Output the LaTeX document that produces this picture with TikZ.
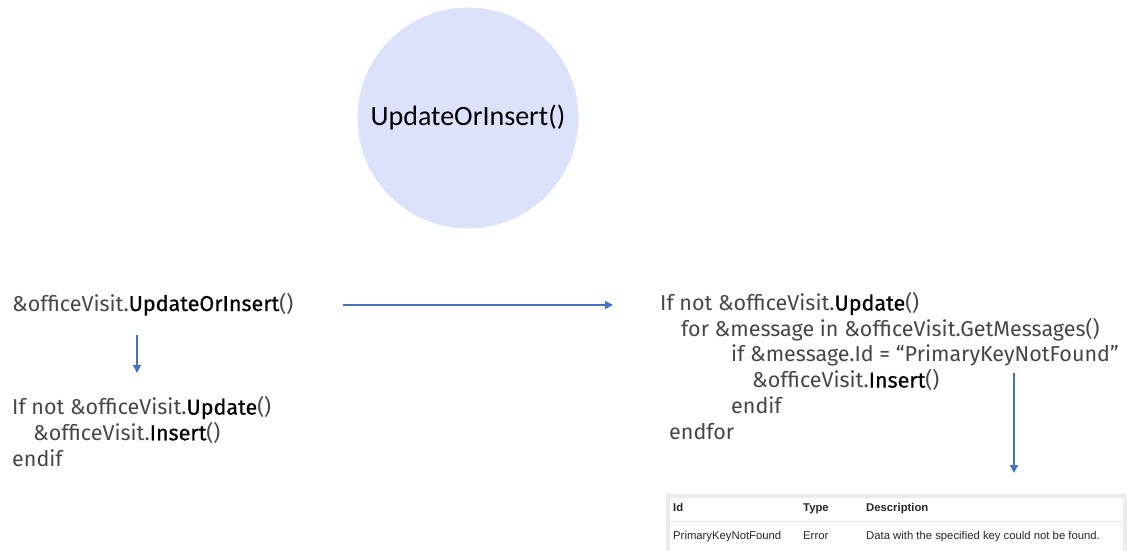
\documentclass[tikz,border=0pt]{standalone}
\usepackage{fontspec}
\setmainfont{Fira Sans}
\newfontfamily\emfont{Fira Sans}[FakeBold=0.6]
\newfontfamily\calfont{Carlito}
\newfontfamily\arialfont{Liberation Sans}
\usetikzlibrary{arrows.meta}
\definecolor{circfill}{RGB}{221,226,251}
\definecolor{arrblue}{RGB}{68,114,196}
\definecolor{tframe}{RGB}{236,236,236}
\definecolor{tline}{RGB}{226,226,226}
\definecolor{ttext}{RGB}{40,40,40}
\definecolor{codegray}{RGB}{70,70,70}
\newcommand{\hlw}[1]{{\emfont\color{black}#1}}
\tikzset{
  code/.style={anchor=base west, inner sep=0pt, align=left, font=\fontsize{21.5}{25.7}\selectfont, text=codegray},
  flow/.style={draw=arrblue, line width=1.4pt, -{Triangle[length=8pt,width=8pt]}},
  thead/.style={anchor=base west, inner sep=0pt, font=\arialfont\bfseries\fontsize{11.3}{13}\selectfont, text=ttext},
  tcell/.style={anchor=base west, inner sep=0pt, font=\arialfont\fontsize{11.3}{13}\selectfont, text=ttext},
}
\begin{document}
\begin{tikzpicture}[x=1pt,y=-1pt]
\useasboundingbox (0,0) rectangle (1130,550);
% circle
\node[circle, fill=circfill, minimum size=221pt, inner sep=0pt, font=\calfont\fontsize{28}{32}\selectfont] (circ) at (468,118) {UpdateOrInsert()};
% left code
\node[code] (call) at (12,311) {\&officeVisit.\hlw{UpdateOrInsert}()};
\node[code] (simple) at (12,466) {If not \&officeVisit.\hlw{Update}()\\
\hspace*{21pt}\&officeVisit.\hlw{Insert}()\\
endif};
% right code
\node[code] (full) at (660,439) {If not \&officeVisit.\hlw{Update}()\\
\hspace*{21pt}for \&message in \&officeVisit.GetMessages()\\
\hspace*{71pt}if \&message.Id = “PrimaryKeyNotFound”\\
\hspace*{92pt}\&officeVisit.\hlw{Insert}()\\
\hspace*{71pt}endif\\
\hspace*{9pt}endfor};
% arrows
\coordinate (a1s) at (137,335);
\coordinate (a1e) at (137,373);
\coordinate (a2s) at (343,305);
\coordinate (a2e) at (613,305);
\coordinate (a3s) at (1014,373);
\coordinate (a3e) at (1014,473);
\draw[flow] (a1s) -- (a1e);
\draw[flow] (a2s) -- (a2e);
\draw[flow] (a3s) -- (a3e);
% table
\fill[tframe] (666,494) rectangle (1127,553);
\fill[white, rounded corners=3pt] (670,498) rectangle (1123,556);
\draw[tline, line width=1pt] (670,521) -- (1123,521);
\node[thead] (hid) at (673,511) {Id};
\node[thead] (htype) at (803,511) {Type};
\node[thead] (hdesc) at (866,511) {Description};
\node[tcell] (cid) at (673,539) {PrimaryKeyNotFound};
\node[tcell] (ctype) at (803,539) {Error};
\node[tcell] (cdesc) at (866,539) {Data with the specified key could not be found.};
\end{tikzpicture}
\end{document}
